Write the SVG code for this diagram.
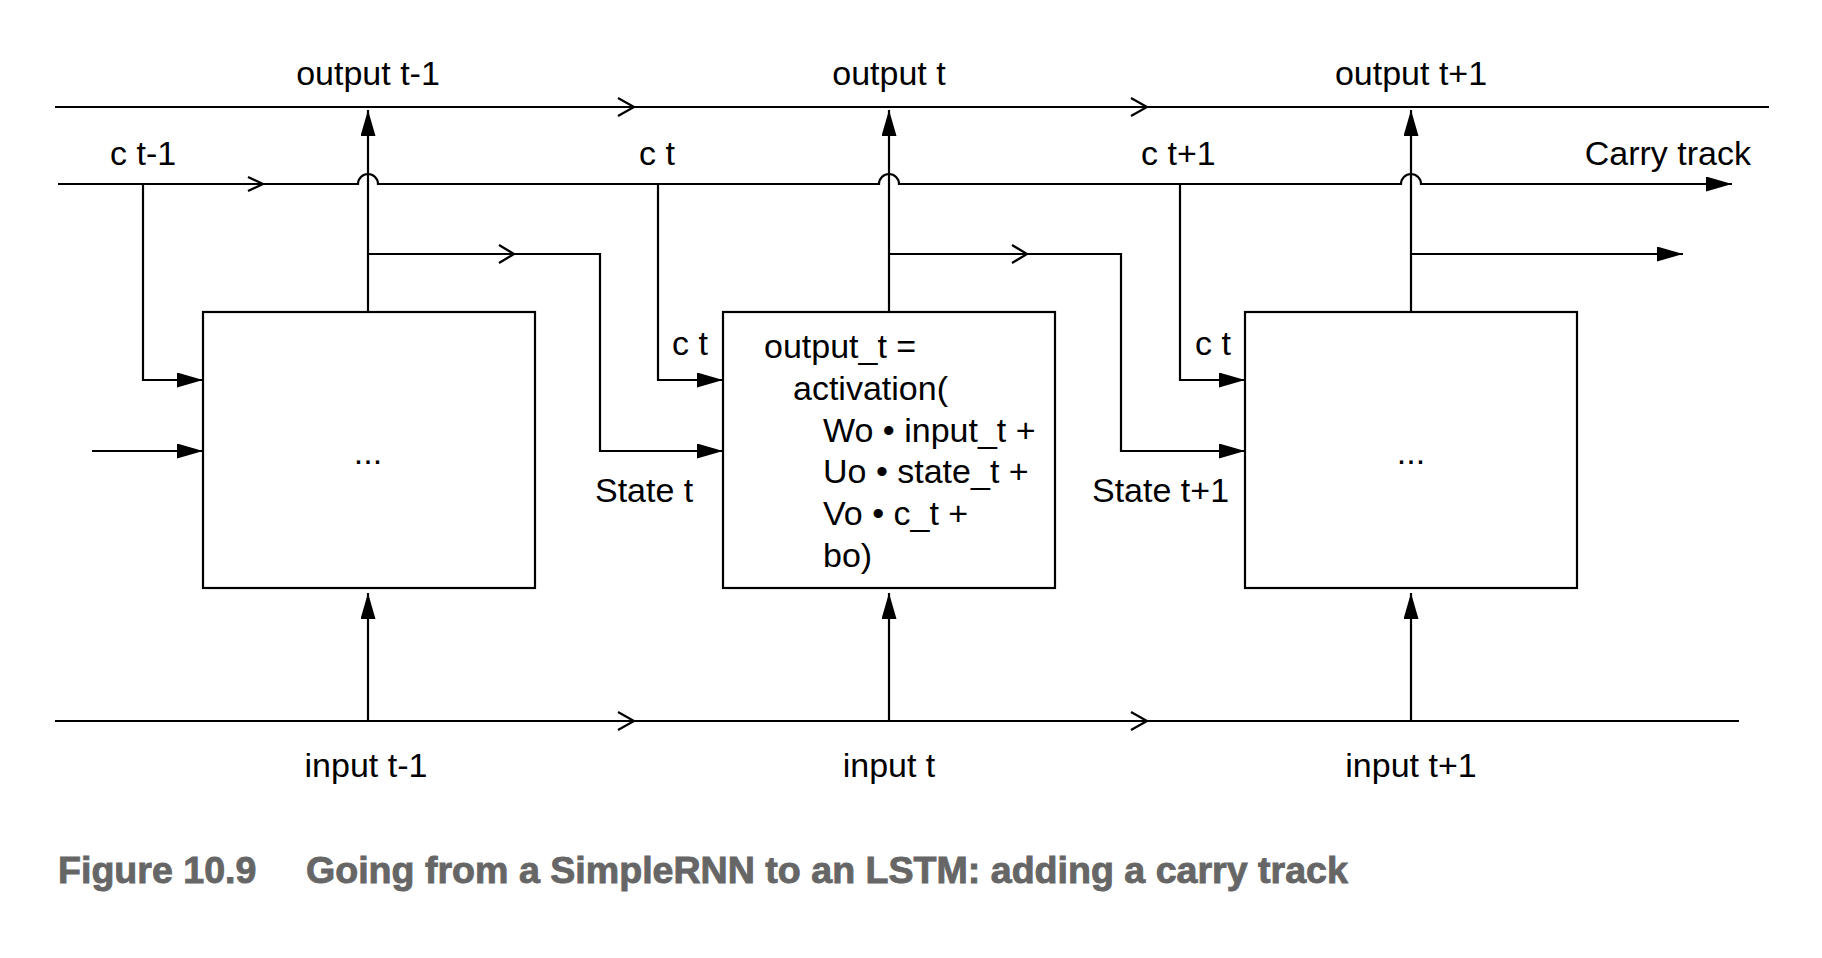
<svg xmlns="http://www.w3.org/2000/svg" width="1822" height="958" viewBox="0 0 1822 958">
  <defs>
    <marker id="arr" markerUnits="userSpaceOnUse" markerWidth="28" markerHeight="15" refX="26" refY="7.5" orient="auto">
      <path d="M0,0 L26,7.5 L0,15 Z" fill="#000"/>
    </marker>
    <style>
      .ln { fill: none; stroke: #000; stroke-width: 2.2; }
      .chev { fill: none; stroke: #000; stroke-width: 2.2; }
      .box { fill: #fff; stroke: #000; stroke-width: 2.2; }
      .t { font-family: "Liberation Sans", Arial, sans-serif; font-size: 34px; fill: #000; }
      .m { text-anchor: middle; }
      .cap { font-family: "Liberation Sans", Arial, sans-serif; font-size: 37.6px; font-weight: bold; fill: #666; stroke: #666; stroke-width: 0.9; }
    </style>
  </defs>
  <rect width="1822" height="958" fill="#fff"/>

  <g id="connectors">
    <!-- output track -->
    <path class="ln" d="M55,107 H1769"/>
    <path class="chev" d="M618,98 L634,107 L618,116"/>
    <path class="chev" d="M1131,98 L1147,107 L1131,116"/>
    <!-- carry track with hops -->
    <path class="ln" d="M58,184 H358 A10,10 0 0 1 378,184 H879 A10,10 0 0 1 899,184 H1401 A10,10 0 0 1 1421,184 H1732" marker-end="url(#arr)"/>
    <path class="chev" d="M248,177 L263,184 L248,191"/>
    <!-- input track -->
    <path class="ln" d="M55,721 H1739"/>
    <path class="chev" d="M618,712 L634,721 L618,730"/>
    <path class="chev" d="M1131,712 L1147,721 L1131,730"/>
    <!-- outputs up -->
    <path class="ln" d="M368,312 V110" marker-end="url(#arr)"/>
    <path class="ln" d="M889,312 V110" marker-end="url(#arr)"/>
    <path class="ln" d="M1411,312 V110" marker-end="url(#arr)"/>
    <!-- inputs up -->
    <path class="ln" d="M368,721 V593" marker-end="url(#arr)"/>
    <path class="ln" d="M889,721 V593" marker-end="url(#arr)"/>
    <path class="ln" d="M1411,721 V593" marker-end="url(#arr)"/>
    <!-- carry into cells -->
    <path class="ln" d="M143,184 V380 H203" marker-end="url(#arr)"/>
    <path class="ln" d="M658,184 V380 H723" marker-end="url(#arr)"/>
    <path class="ln" d="M1180,184 V380 H1245" marker-end="url(#arr)"/>
    <!-- state connectors -->
    <path class="ln" d="M92,451 H203" marker-end="url(#arr)"/>
    <path class="ln" d="M368,254 H600 V451 H723" marker-end="url(#arr)"/>
    <path class="chev" d="M499,245 L514,254 L499,263"/>
    <path class="ln" d="M889,254 H1121 V451 H1245" marker-end="url(#arr)"/>
    <path class="chev" d="M1012,245 L1027,254 L1012,263"/>
    <path class="ln" d="M1411,254 H1683" marker-end="url(#arr)"/>
  </g>

  <g id="cell-t-1">
    <rect class="box" x="203" y="312" width="332" height="276"/>
    <text class="t m" x="368" y="464">...</text>
  </g>

  <g id="cell-t">
    <rect class="box" x="723" y="312" width="332" height="276"/>
    <text class="t" x="764" y="358">output_t =</text>
    <text class="t" x="793" y="400">activation(</text>
    <text class="t" x="823" y="442">Wo • input_t +</text>
    <text class="t" x="823" y="483">Uo • state_t +</text>
    <text class="t" x="823" y="525">Vo • c_t +</text>
    <text class="t" x="823" y="567">bo)</text>
  </g>

  <g id="cell-t+1">
    <rect class="box" x="1245" y="312" width="332" height="276"/>
    <text class="t m" x="1411" y="464">...</text>
  </g>

  <g id="labels">
    <text class="t m" x="368" y="85">output t-1</text>
    <text class="t m" x="889" y="85">output t</text>
    <text class="t m" x="1411" y="85">output t+1</text>
    <text class="t" x="110" y="165">c t-1</text>
    <text class="t" x="639" y="165">c t</text>
    <text class="t" x="1141" y="165">c t+1</text>
    <text class="t" x="1751" y="165" text-anchor="end">Carry track</text>
    <text class="t" x="708" y="355" text-anchor="end">c t</text>
    <text class="t" x="1231" y="355" text-anchor="end">c t</text>
    <text class="t" x="595" y="502">State t</text>
    <text class="t" x="1092" y="502">State t+1</text>
    <text class="t m" x="366" y="777">input t-1</text>
    <text class="t m" x="889" y="777">input t</text>
    <text class="t m" x="1411" y="777">input t+1</text>
  </g>

  <g id="caption">
    <text class="cap" x="58" y="883">Figure 10.9</text>
    <text class="cap" x="306" y="883">Going from a SimpleRNN to an LSTM: adding a carry track</text>
  </g>
</svg>
